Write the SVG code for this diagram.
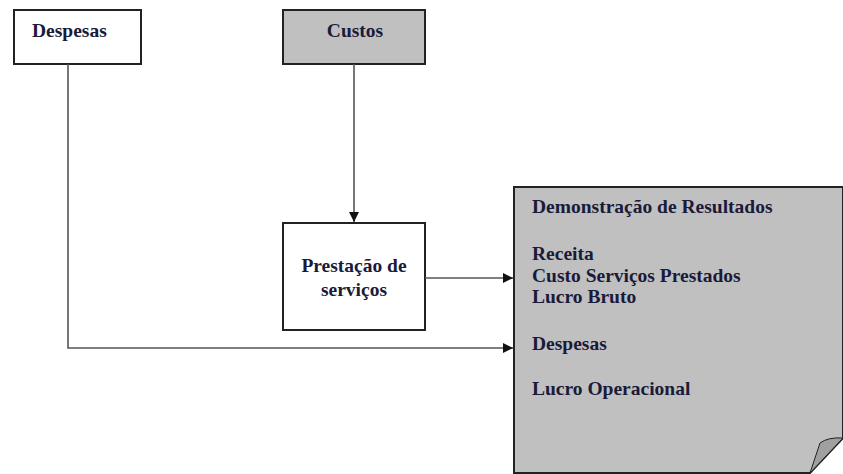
<svg xmlns="http://www.w3.org/2000/svg" width="843" height="474" viewBox="0 0 843 474">
<style>
.box{stroke:#222;stroke-width:2}
.t{font-family:"Liberation Serif","Times New Roman",serif;font-weight:bold;font-size:19.5px;fill:#1a1a3a}
.c{fill:none;stroke:#555;stroke-width:1.6}
</style>
<defs>
<marker id="ah" viewBox="0 0 10 10" refX="10" refY="5" markerWidth="10" markerHeight="10" markerUnits="userSpaceOnUse" orient="auto">
<path d="M0,0 L10,5 L0,10 Z" fill="#111"/>
</marker>
</defs>
<rect width="843" height="474" fill="#fff"/>
<g id="despesas">
<rect class="box" x="14" y="10" width="127" height="54" fill="#fff"/>
<text class="t" x="32" y="37">Despesas</text>
</g>
<g id="custos">
<rect class="box" x="283" y="10" width="142" height="54" fill="#c0c0c0"/>
<text class="t" x="355" y="37" text-anchor="middle">Custos</text>
</g>
<g id="prestacao">
<rect class="box" x="283" y="223" width="142" height="107" fill="#fff"/>
<text class="t" x="354" y="272" text-anchor="middle">Prestação de</text>
<text class="t" x="354" y="296" text-anchor="middle">serviços</text>
</g>
<g id="demonstracao">
<path class="box" d="M514,187 H843 V438 L810,473 H514 Z" fill="#c0c0c0"/>
<path d="M843,438 Q828,437 820,443 Q815,458 810,473 Z" fill="#a0a0a0" stroke="#222" stroke-width="1"/>
<text class="t" x="532" y="213">Demonstração de Resultados</text>
<text class="t" x="532" y="260">Receita</text>
<text class="t" x="532" y="282">Custo Serviços Prestados</text>
<text class="t" x="532" y="303">Lucro Bruto</text>
<text class="t" x="532" y="350">Despesas</text>
<text class="t" x="532" y="395">Lucro Operacional</text>
</g>
<g id="connectors">
<path class="c" d="M354,64 V222" marker-end="url(#ah)"/>
<path class="c" d="M425,278 H513" marker-end="url(#ah)"/>
<path class="c" d="M68,64 V348 H513" marker-end="url(#ah)"/>
</g>
</svg>
